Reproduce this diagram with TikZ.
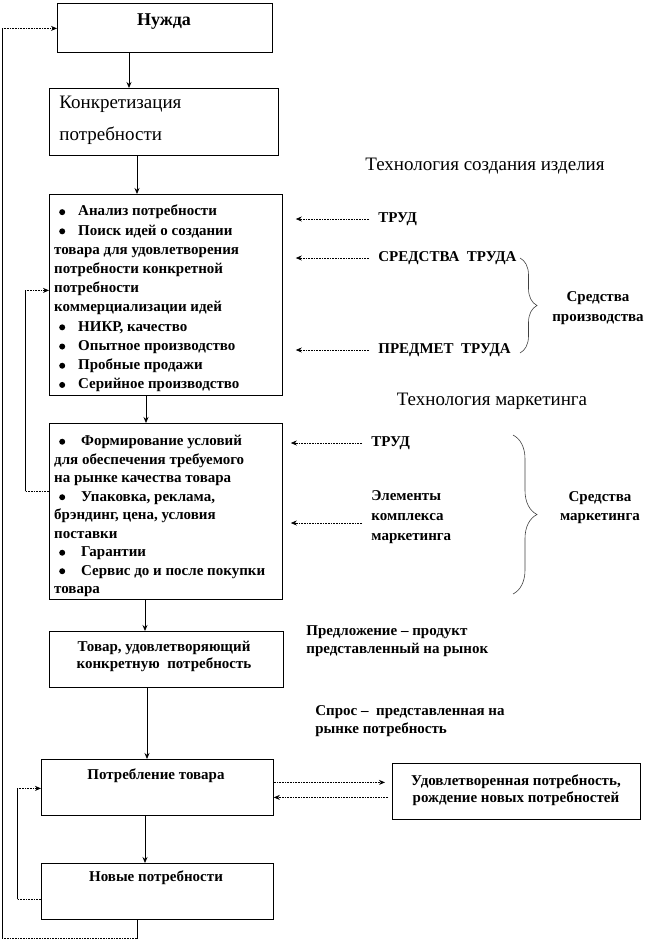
\documentclass[tikz,border=0pt]{standalone}
\usepackage{fontspec}
\setmainfont{Liberation Serif}
\usetikzlibrary{arrows.meta,decorations.pathreplacing}
\tikzstyle{blok}=[draw=black,line width=0.8pt,anchor=north west,inner sep=0pt]
\tikzstyle{zhir}=[font=\fontsize{15}{18}\selectfont\bfseries,inner sep=0pt]
\tikzstyle{spisok}=[zhir,align=left,anchor=north west,font=\fontsize{15}{19.2}\selectfont\bfseries]
\tikzstyle{obych}=[font=\fontsize{19}{23}\selectfont,inner sep=0pt]
\tikzstyle{tochki}=[line width=0.7pt,dash pattern=on 0.7pt off 0.9pt]
\tikzstyle{strelka}=[-{Stealth[length=6pt,width=5pt]},line width=0.8pt]
\tikzstyle{skobka}=[decorate,decoration={brace,amplitude=17pt},line width=0.6pt,draw=black!75]
\newcommand{\pkt}[1][13pt]{\hspace*{5pt}\tikz[baseline=0pt]\fill (0pt,3.8pt) circle (3pt);\hspace*{#1}}

\begin{document}
\begin{tikzpicture}[x=1pt,y=-1pt,line width=0.8pt]
\useasboundingbox (0,0) rectangle (668,940);
% блоки
\node[blok,minimum width=215pt,minimum height=49pt] (nuzhda) at (57,3) {};
\node[blok,minimum width=229pt,minimum height=67pt] (konkr) at (49,88) {};
\node[blok,minimum width=233pt,minimum height=201pt] (sozd) at (49,194) {};
\node[blok,minimum width=233pt,minimum height=176pt] (mark) at (49,423) {};
\node[blok,minimum width=234pt,minimum height=56pt] (tovar) at (49,631) {};
\node[blok,minimum width=232pt,minimum height=56pt] (potr) at (41,759) {};
\node[blok,minimum width=232pt,minimum height=56pt] (novye) at (41,863) {};
\node[blok,minimum width=248pt,minimum height=56pt] (udovl) at (392,763) {};
% тексты в блоках
\node[zhir,font=\fontsize{18}{22}\selectfont\bfseries,anchor=mid] (tnuzhda) at (164,23) {Нужда};
\node[obych,align=left,anchor=north west,font=\fontsize{19}{32}\selectfont] (tkonkr) at (59,96) {Конкретизация\\потребности};
\node[spisok] (tsozd) at (54,205) {\pkt Анализ потребности\\ \pkt Поиск идей о создании\\ товара для удовлетворения\\ потребности конкретной\\ потребности\\ коммерциализации идей\\ \pkt НИКР, качество\\ \pkt Опытное производство\\ \pkt Пробные продажи\\ \pkt Серийное производство};
\node[spisok,font=\fontsize{15}{18.5}\selectfont\bfseries] (tmark) at (54,435) {\pkt[16pt]Формирование условий\\ для обеспечения требуемого\\ на рынке качества товара\\ \pkt[16pt]Упаковка, реклама,\\ брэндинг, цена, условия\\ поставки\\ \pkt[16pt]Гарантии\\ \pkt[16pt]Сервис до и после покупки\\ товара};
\node[zhir,align=center,font=\fontsize{15}{17}\selectfont\bfseries] (ttovar) at (164,656) {Товар, удовлетворяющий\\конкретную\ \ потребность};
\node[zhir,anchor=mid] (tpotr) at (156,777) {Потребление товара};
\node[zhir,anchor=mid] (tnovye) at (156,879) {Новые потребности};
\node[zhir,align=center,font=\fontsize{15}{17}\selectfont\bfseries] (tudovl) at (516,790) {Удовлетворенная потребность,\\рождение новых потребностей};
% подписи справа
\node[obych,anchor=mid] (tizd) at (485,168) {Технология создания изделия};
\node[zhir,anchor=west] (trud) at (378,219) {ТРУД};
\node[zhir,anchor=west] (sredtr) at (378,258) {СРЕДСТВА\ \ ТРУДА};
\node[zhir,anchor=west] (predm) at (378,350) {ПРЕДМЕТ\ \ ТРУДА};
\node[zhir,align=center,font=\fontsize{15}{20}\selectfont\bfseries] (sprz) at (598,308) {Средства\\производства};
\node[obych,anchor=mid] (tmk) at (492,403) {Технология маркетинга};
\node[zhir,anchor=west] (trudm) at (371,443) {ТРУД};
\node[zhir,align=left,anchor=west,font=\fontsize{15}{20}\selectfont\bfseries] (elem) at (371,517) {Элементы\\комплекса\\маркетинга};
\node[zhir,align=center,font=\fontsize{15}{19}\selectfont\bfseries] (smk) at (600,508) {Средства\\маркетинга};
\node[zhir,align=left,anchor=west] (predl) at (306,641) {Предложение – продукт\\представленный на рынок};
\node[zhir,align=left,anchor=west] (spros) at (315,721) {Спрос –\ \ представленная на\\рынке потребность};
% основные стрелки
\draw[strelka] ([xshift=72pt]nuzhda.south west) -- ([xshift=80pt]konkr.north west);
\draw[strelka] ([xshift=88pt]konkr.south west) -- ([xshift=88pt]sozd.north west);
\draw[strelka] ([xshift=97pt]sozd.south west) -- ([xshift=97pt]mark.north west);
\draw[strelka] ([xshift=96pt]mark.south west) -- ([xshift=96pt]tovar.north west);
\draw[strelka] ([xshift=98pt]tovar.south west) -- ([xshift=106pt]potr.north west);
\draw[strelka] ([xshift=104pt]potr.south west) -- ([xshift=104pt]novye.north west);
% пунктирные стрелки к блокам
\draw[strelka,tochki,shorten <=9pt,shorten >=13pt] (trud.west) -- (sozd.east |- trud.west);
\draw[strelka,tochki,shorten <=9pt,shorten >=13pt] (sredtr.west) -- (sozd.east |- sredtr.west);
\draw[strelka,tochki,shorten <=9pt,shorten >=13pt] (predm.west) -- (sozd.east |- predm.west);
\draw[strelka,tochki,shorten <=9pt,shorten >=8pt] (trudm.west) -- (mark.east |- trudm.west);
\coordinate (el) at ([yshift=-6pt]elem.west);
\draw[strelka,tochki,shorten <=9pt,shorten >=8pt] (el) -- (mark.east |- el);
\coordinate (pa) at ([yshift=5pt]potr.east);
\draw[strelka,tochki,shorten >=7pt] (pa) -- (udovl.west |- pa);
\coordinate (pb) at ([yshift=-6pt]udovl.west);
\draw[strelka,tochki,shorten <=4pt] (pb) -- (potr.east |- pb);
% обратные связи
\coordinate (la1) at ([xshift=-24pt,yshift=20pt]mark.west);
\coordinate (la2) at ([xshift=-24pt,yshift=4.5pt]sozd.west);
\draw[tochki] (mark.west |- la1) -- (la1);
\draw (la1) -- (la2);
\draw[strelka,tochki] (la2) -- (sozd.west |- la2);
\coordinate (lc1) at ([xshift=-24pt,yshift=-8pt]novye.west);
\coordinate (lc2) at ([xshift=-24pt,yshift=-1pt]potr.west);
\draw[tochki] (novye.west |- lc1) -- (lc1);
\draw (lc1) -- (lc2);
\draw[strelka,tochki] (lc2) -- (potr.west |- lc2);
\coordinate (lb1) at ([xshift=96pt,yshift=-19pt]novye.south west);
\coordinate (lb2) at ([xshift=-135pt]lb1);
\coordinate (lb3) at ([xshift=-55pt,yshift=-0.5pt]nuzhda.west);
\draw ([xshift=96pt]novye.south west) -- (lb1);
\draw[tochki] (lb1) -- (lb2);
\draw (lb2) -- (lb3);
\draw[strelka,tochki] (lb3) -- (nuzhda.west |- lb3);
% скобки
\draw[skobka] (520,258) -- (520,353);
\draw[skobka,decoration={amplitude=24pt}] (513,435) -- (513,594);
\end{tikzpicture}
\end{document}
